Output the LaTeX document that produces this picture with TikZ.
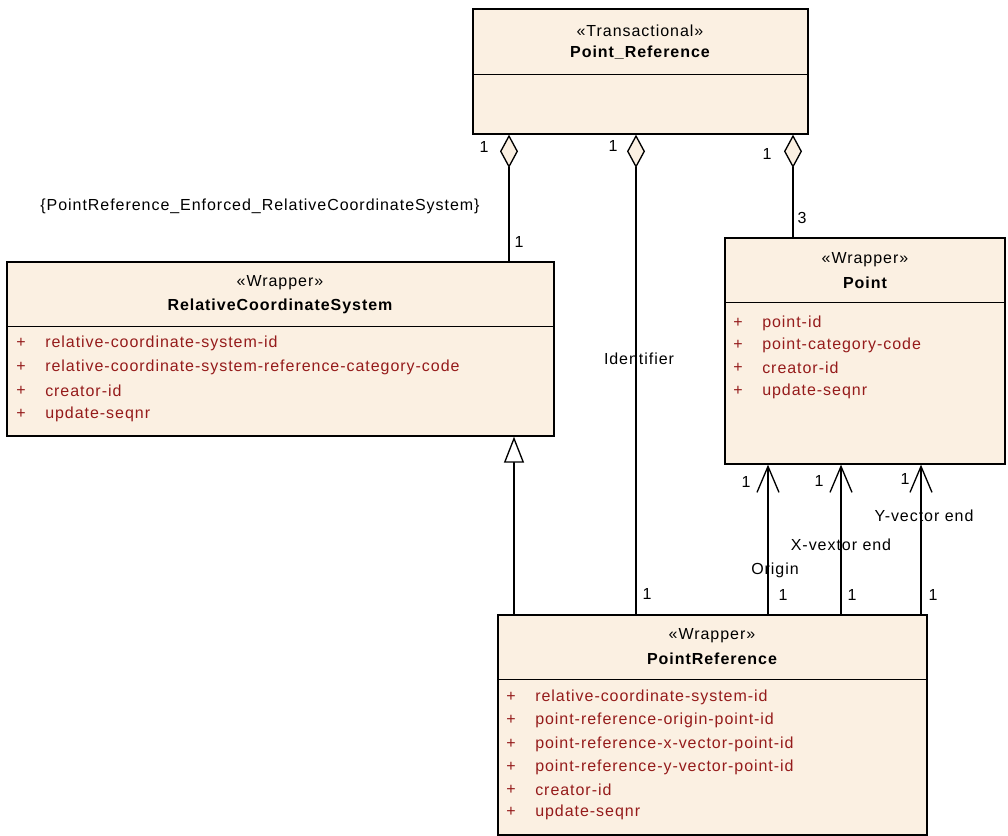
\documentclass[tikz,border=0pt]{standalone}
\usepackage{fontspec}
\setmainfont{Liberation Sans}[LetterSpace=6]
\usetikzlibrary{arrows.meta,positioning,calc,fit}
\definecolor{cream}{HTML}{FBF0E2}
\definecolor{attrred}{HTML}{951B1B}
\tikzset{cls/.style={draw=black,line width=1pt,fill=cream,inner sep=0pt},
  stereo/.style={font=\fontsize{12}{14}\selectfont,inner sep=0pt},
  title/.style={font=\fontsize{12}{14}\selectfont\bfseries,inner sep=0pt},
  attr/.style={anchor=west,text=attrred,font=\fontsize{12}{14}\selectfont,inner sep=0pt},
  lbl/.style={font=\fontsize{12}{14}\selectfont,inner sep=0pt},
  agg/.style={{Diamond[length=25pt,width=13.5pt,fill=cream]}-,line width=1pt},
  nav/.style={-{Straight Barb[length=19.5pt,width=16.5pt]},line width=1pt},
  gen/.style={-{Triangle[open,length=19.5pt,width=15pt,fill=white]},line width=1pt}}

\begin{document}
\begin{tikzpicture}[x=0.75pt,y=-0.75pt]
\useasboundingbox (0,0) rectangle (1008,836);
% classes
\node[cls,fit={(473,9) (808,134)}] (pref) {};
\draw[line width=1pt] ($(pref.north west)+(0,66)$) -- ($(pref.north east)+(0,66)$);
\node[stereo] (prefst) at (640,31) {«Transactional»};
\node[title] (prefnm) at (640,53) {Point\_Reference};

\node[cls,fit={(7,262) (554,436)}] (rcs) {};
\draw[line width=1pt] ($(rcs.north west)+(0,65)$) -- ($(rcs.north east)+(0,65)$);
\node[stereo] (rcsst) at (280,283) {«Wrapper»};
\node[title] (rcsnm) at (280,306) {RelativeCoordinateSystem};
\foreach \y/\t [count=\i] in {343/relative-coordinate-system-id,
  367/relative-coordinate-system-reference-category-code,391/creator-id,414/update-seqnr}{
  \node[attr] (rcsp\i) at (16,\y) {+};
  \node[attr] (rcsa\i) at (45,\y) {\t};
}

\node[cls,fit={(725,238) (1005,464)}] (pt) {};
\draw[line width=1pt] ($(pt.north west)+(0,65)$) -- ($(pt.north east)+(0,65)$);
\node[stereo] (ptst) at (865,260) {«Wrapper»};
\node[title] (ptnm) at (865,283) {Point};
\foreach \y/\t [count=\i] in {323/point-id,345/point-category-code,368/creator-id,391/update-seqnr}{
  \node[attr] (ptp\i) at (733,\y) {+};
  \node[attr] (pta\i) at (762,\y) {\t};
}

\node[cls,fit={(498,615) (927,835)}] (pr) {};
\draw[line width=1pt] ($(pr.north west)+(0,65)$) -- ($(pr.north east)+(0,65)$);
\node[stereo] (prst) at (712,636) {«Wrapper»};
\node[title] (prnm) at (712,659) {PointReference};
\foreach \y/\t [count=\i] in {697/relative-coordinate-system-id,720/point-reference-origin-point-id,
  744/point-reference-x-vector-point-id,767/point-reference-y-vector-point-id,790/creator-id,812/update-seqnr}{
  \node[attr] (prp\i) at (506,\y) {+};
  \node[attr] (pra\i) at (535,\y) {\t};
}

% connectors
\coordinate (xa) at (509,0);
\coordinate (xb) at (636,0);
\coordinate (xc) at (793,0);
\coordinate (xg) at (514,0);
\coordinate (xo) at (768,0);
\coordinate (xx) at (841,0);
\coordinate (xy) at (921,0);
\draw[agg] (pref.south -| xa) -- (rcs.north -| xa);
\draw[agg] (pref.south -| xb) -- (pr.north -| xb);
\draw[agg] (pref.south -| xc) -- (pt.north -| xc);
\draw[gen] (pr.north -| xg) -- (rcs.south -| xg);
\draw[nav] (pr.north -| xo) -- (pt.south -| xo);
\draw[nav] (pr.north -| xx) -- (pt.south -| xx);
\draw[nav] (pr.north -| xy) -- (pt.south -| xy);

% labels
\node[lbl] (m1) at (484,147) {1};
\node[lbl] (m2) at (613,146) {1};
\node[lbl] (m3) at (767,154) {1};
\node[lbl] (m4) at (802,218) {3};
\node[lbl] (m5) at (519,242) {1};
\node[lbl] (cons) at (260,206) {\{PointReference\_Enforced\_RelativeCoordinateSystem\}};
\node[lbl] (ident) at (639,359) {Identifier};
\node[lbl] (m6) at (647,594) {1};
\node[lbl] (m7) at (746,482) {1};
\node[lbl] (m8) at (819,481) {1};
\node[lbl] (m9) at (905,479) {1};
\node[lbl] (yend) at (924,516) {Y-vector end};
\node[lbl] (xend) at (841,545) {X-vextor end};
\node[lbl] (orig) at (775,570) {Origin};
\node[lbl] (m10) at (783,595) {1};
\node[lbl] (m11) at (852,595) {1};
\node[lbl] (m12) at (933,595) {1};
\end{tikzpicture}
\end{document}
